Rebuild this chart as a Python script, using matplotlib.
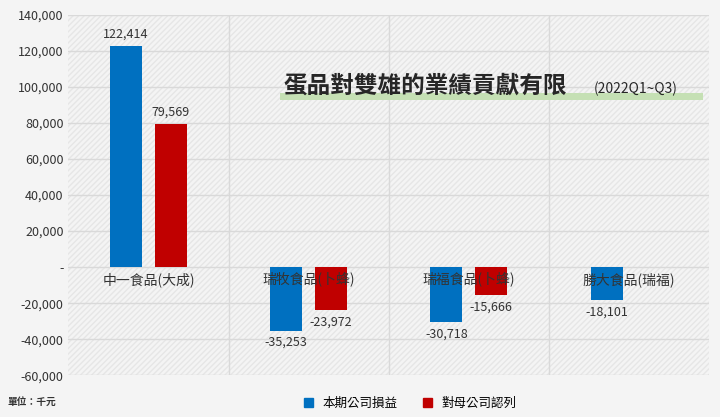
import numpy as np
import matplotlib.pyplot as plt
from matplotlib.ticker import FuncFormatter, MultipleLocator
from matplotlib.patches import Rectangle

plt.rcParams['font.family'] = ['Noto Sans CJK TC', 'DejaVu Sans']

categories = ['中一食品(大成)', '瑞牧食品(卜蜂)', '瑞福食品(卜蜂)', '勝大食品(瑞福)']
current_pl = [122414, -35253, -30718, -18101]
parent_share = [79569, -23972, -15666, None]
series_names = ['本期公司損益', '對母公司認列']

blue = '#0070c0'
red = '#c00000'

fig = plt.figure(figsize=(7.2, 4.17), dpi=100)
ax = fig.add_axes([0.095, 0.1, 0.89, 0.865])
fig.patch.set_facecolor('#f4f4f4')
ax.set_facecolor('#f4f4f4')
ax.add_patch(Rectangle((0, 0), 1, 1, transform=ax.transAxes, facecolor='none',
                       edgecolor='#e6e6e6', hatch='//////', lw=0, zorder=0))

x = np.arange(len(categories))
w = 0.2
for i, (a, b) in enumerate(zip(current_pl, parent_share)):
    ax.bar(x[i] - 0.14, a, w, color=blue, zorder=2)
    off = 3000 if a > 0 else -3000
    ax.text(x[i] - 0.14, a + off, f'{a:,}', ha='center',
            va='bottom' if a > 0 else 'top', fontsize=9, color='#333333')
    if b is not None:
        ax.bar(x[i] + 0.14, b, w, color=red, zorder=2)
        off = 3000 if b > 0 else -3000
        ax.text(x[i] + 0.14, b + off, f'{b:,}', ha='center',
                va='bottom' if b > 0 else 'top', fontsize=9, color='#333333')
    ax.text(x[i], -7000, categories[i], ha='center', va='center', fontsize=10,
            color='#333333', zorder=3)

ax.set_xlim(-0.5, 3.5)
ax.set_ylim(-60000, 140000)
ax.yaxis.set_major_locator(MultipleLocator(20000))
ax.yaxis.set_major_formatter(FuncFormatter(lambda v, p: '-' if v == 0 else f'{int(v):,}'))
ax.tick_params(axis='y', labelsize=9, length=0, colors='#333333')
ax.set_xticks([0.5, 1.5, 2.5])
ax.set_xticklabels([])
ax.tick_params(axis='x', length=0)
ax.grid(True, color='#d9d9d9', lw=1, zorder=1)
for s in ax.spines.values():
    s.set_visible(False)

ax.add_patch(Rectangle((0.33, 0.762), 0.66, 0.022, transform=ax.transAxes,
                       facecolor='#c5e0b4', edgecolor='none', zorder=3))
ax.text(0.335, 0.77, '蛋品對雙雄的業績貢獻有限', transform=ax.transAxes, fontsize=17,
        fontweight='bold', color='#262626', va='bottom', zorder=4)
ax.text(0.82, 0.775, '(2022Q1~Q3)', transform=ax.transAxes, fontsize=10,
        color='#262626', va='bottom', zorder=4)

handles = [Rectangle((0, 0), 1, 1, color=blue), Rectangle((0, 0), 1, 1, color=red)]
fig.legend(handles, series_names, loc='lower center', ncol=2, frameon=False,
           fontsize=9, handlelength=0.7, handleheight=0.7, bbox_to_anchor=(0.57, -0.01))
fig.text(0.01, 0.03, '單位：千元', fontsize=7, fontweight='bold', color='#333333')

fig.savefig('out.png')
